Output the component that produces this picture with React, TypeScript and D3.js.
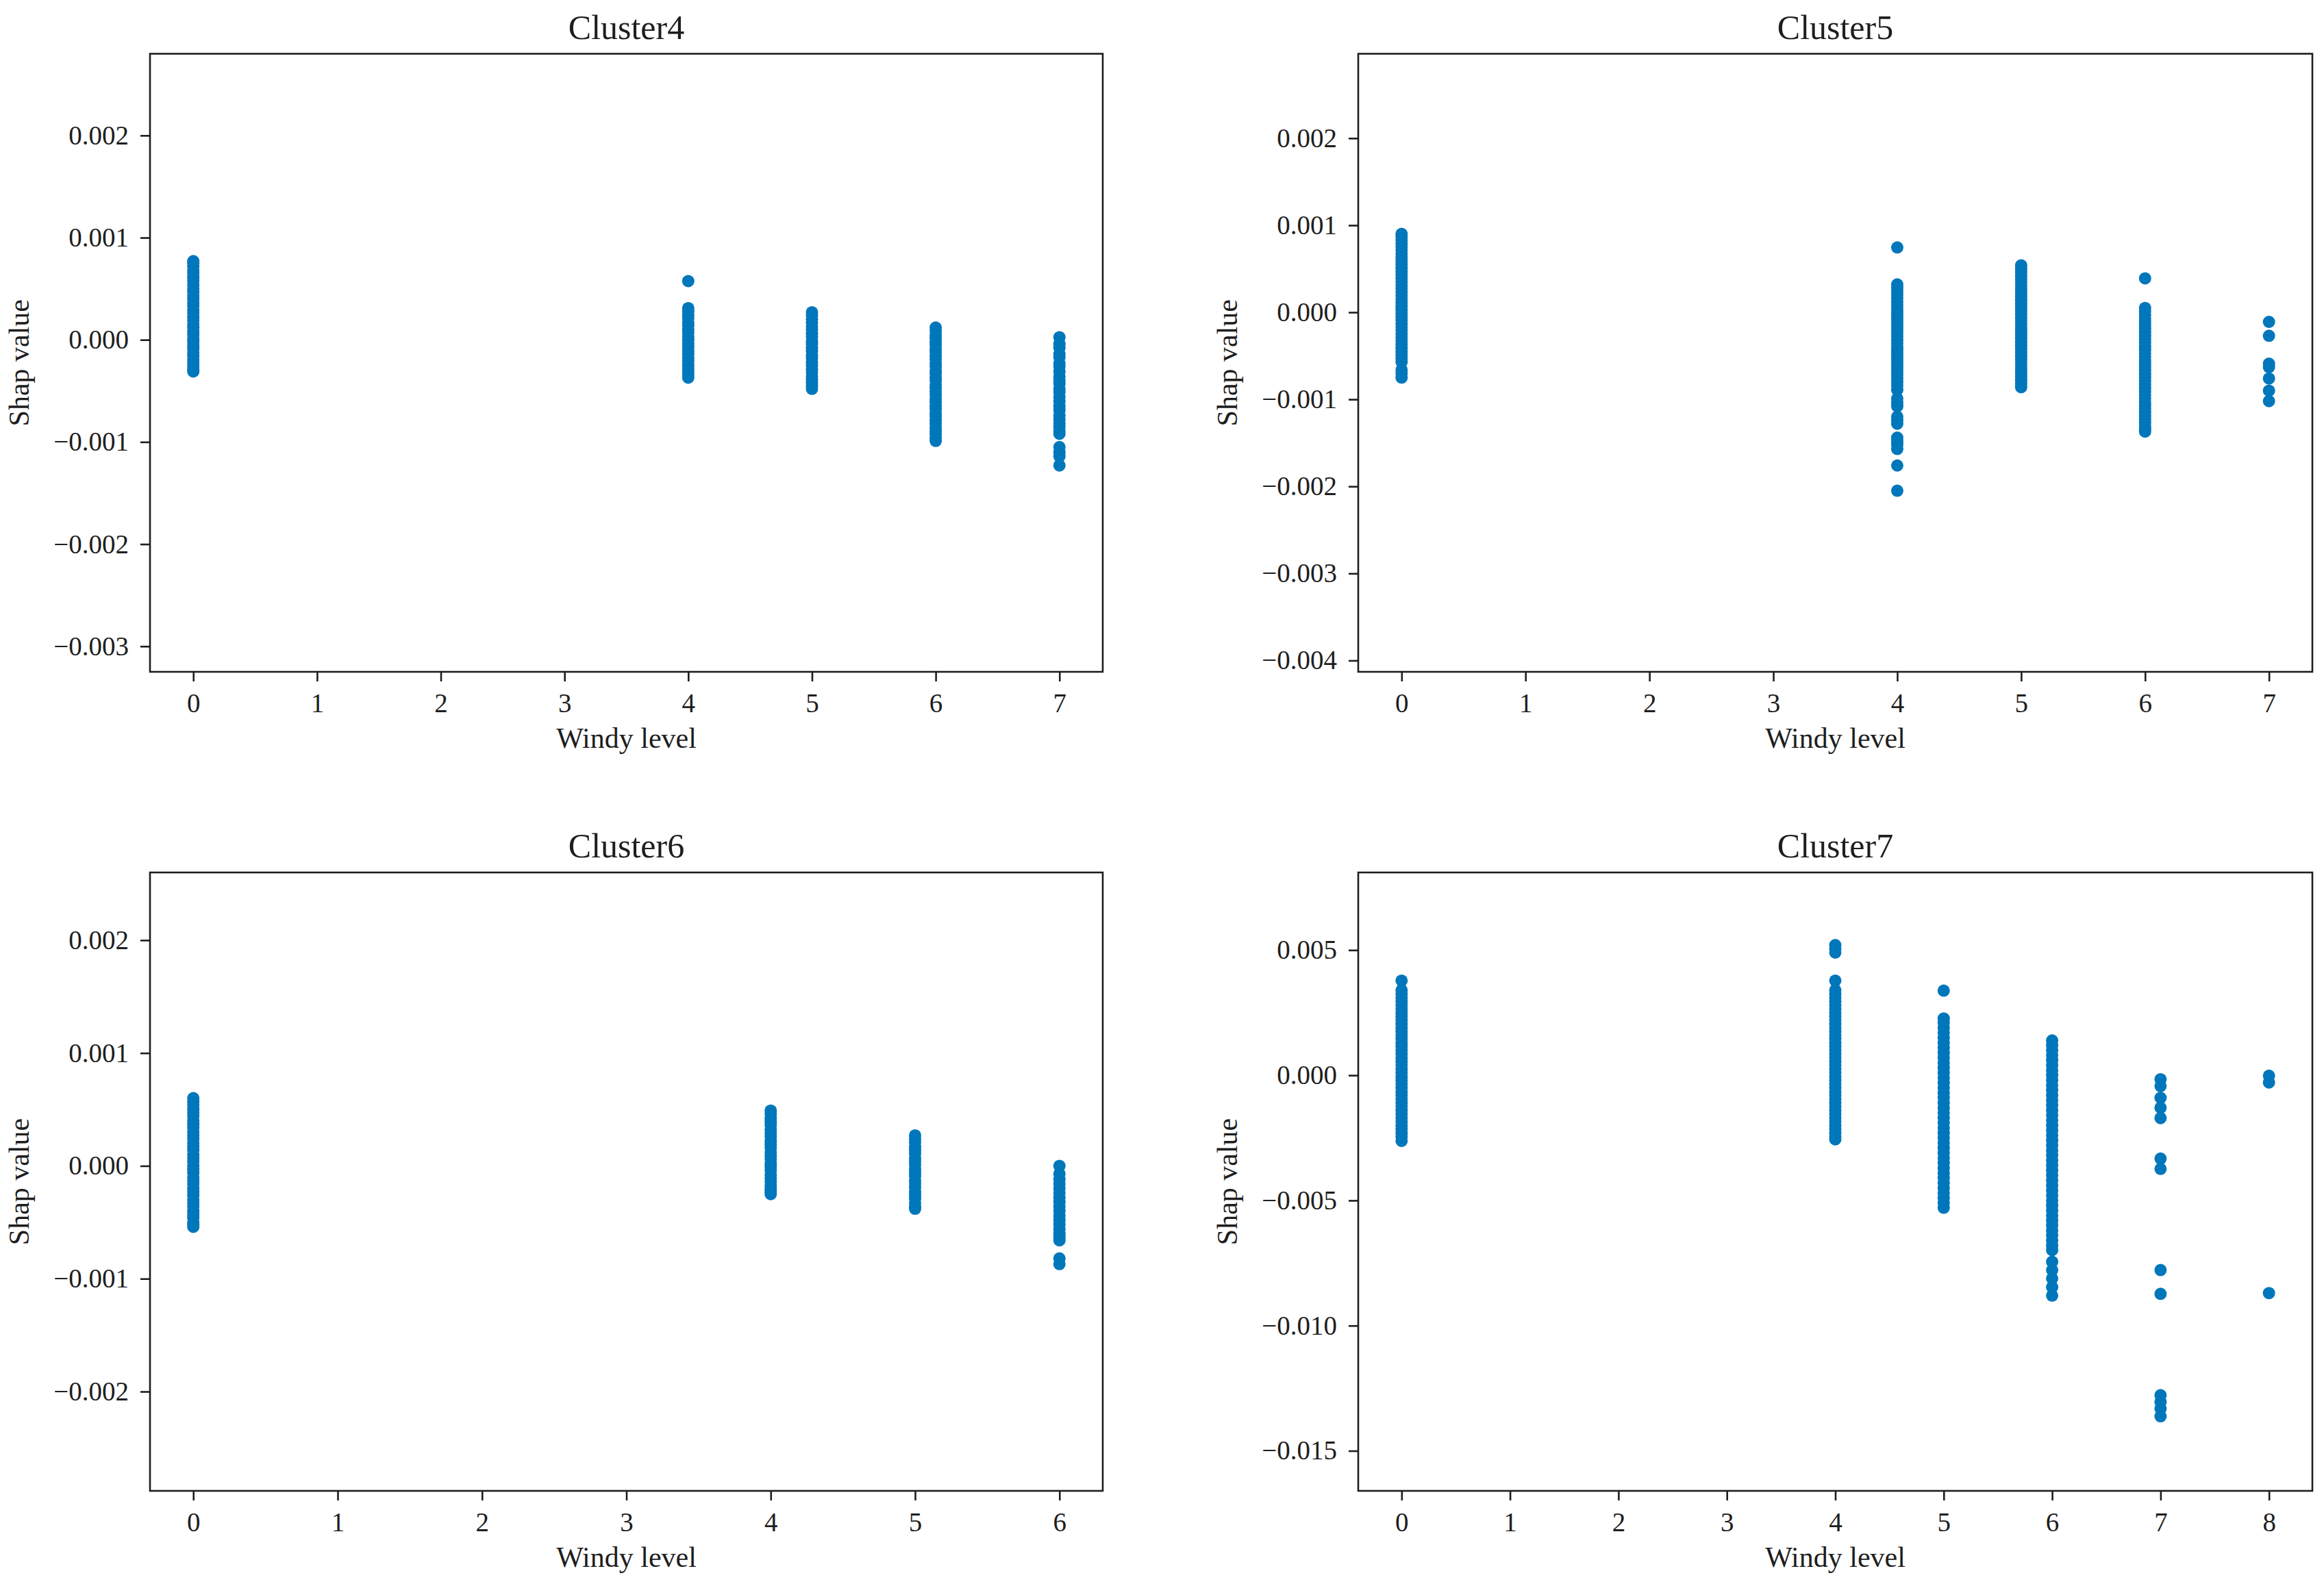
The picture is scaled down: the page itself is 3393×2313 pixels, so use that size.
import React, { useRef, useEffect } from 'react';
import * as d3 from 'd3';

// Shap values, one array per windy level per cluster
const cluster4Level0 = [0.00077, 0.00075, 0.00072, 0.00068, 0.00065, 0.00061, 0.00058, 0.00054, 0.0005, 0.00047, 0.00043, 0.0004, 0.00036, 0.00033, 0.00029, 0.00026, 0.00022, 0.00019, 0.00015, 0.00012, 0.00008, 0.00005, 0.00001, -0.00002, -0.00006, -0.00009, -0.00013, -0.00016, -0.0002, -0.00023, -0.00026, -0.00029, -0.00031];
const cluster4Level4 = [0.000575, 0.00031, 0.00028, 0.00024, 0.00021, 0.00017, 0.00014, 0.0001, 0.00007, 0.00003, 0.0, -0.00004, -0.00007, -0.00011, -0.00014, -0.00018, -0.00021, -0.00025, -0.00028, -0.00031, -0.00034, -0.00037];
const cluster4Level5 = [0.00027, 0.00024, 0.0002, 0.00017, 0.00013, 0.0001, 0.00006, 0.00003, -0.00001, -0.00004, -0.00008, -0.00011, -0.00015, -0.00018, -0.00022, -0.00025, -0.00029, -0.00032, -0.00036, -0.00039, -0.00042, -0.00045, -0.00048];
const cluster4Level6 = [0.00012, 0.00009, 0.00005, 0.00002, -0.00002, -0.00005, -0.00009, -0.00012, -0.00016, -0.00019, -0.00023, -0.00026, -0.0003, -0.00033, -0.00037, -0.0004, -0.00044, -0.00047, -0.00051, -0.00054, -0.00058, -0.00061, -0.00065, -0.00068, -0.00072, -0.00075, -0.00079, -0.00082, -0.00086, -0.00089, -0.00092, -0.00096, -0.00099];
const cluster4Level7 = [0.000025, -0.00004, -0.00008, -0.00014, -0.00017, -0.00023, -0.00026, -0.00031, -0.00036, -0.0004, -0.00043, -0.00048, -0.00051, -0.00056, -0.0006, -0.00065, -0.00069, -0.00074, -0.00078, -0.00082, -0.00085, -0.00089, -0.00092, -0.00105, -0.0011, -0.00114, -0.00123];

const cluster5Level0 = [0.0009, 0.00087, 0.00083, 0.00079, 0.00075, 0.00071, 0.00067, 0.00063, 0.00059, 0.00055, 0.00051, 0.00047, 0.00043, 0.00039, 0.00035, 0.00031, 0.00027, 0.00023, 0.00019, 0.00015, 0.00011, 0.00007, 0.00003, -0.00001, -0.00005, -0.00009, -0.00013, -0.00017, -0.00021, -0.00025, -0.00029, -0.00033, -0.00037, -0.00041, -0.00045, -0.00049, -0.00053, -0.00057, -0.00066, -0.0007, -0.00075];
const cluster5Level4 = [0.000745, 0.00032, 0.00028, 0.00024, 0.0002, 0.00016, 0.00012, 0.00008, 0.00004, 0.0, -0.00004, -0.00008, -0.00012, -0.00016, -0.0002, -0.00024, -0.00028, -0.00032, -0.00036, -0.0004, -0.00044, -0.00048, -0.00052, -0.00056, -0.0006, -0.00064, -0.00068, -0.00072, -0.00076, -0.0008, -0.00084, -0.00089, -0.00099, -0.00104, -0.00108, -0.0012, -0.00124, -0.00128, -0.00144, -0.00148, -0.00152, -0.00157, -0.00176, -0.00205];
const cluster5Level5 = [0.00054, 0.0005, 0.00046, 0.00042, 0.00038, 0.00034, 0.0003, 0.00026, 0.00022, 0.00018, 0.00014, 0.0001, 0.00006, 0.00002, -0.00002, -0.00006, -0.0001, -0.00014, -0.00018, -0.00022, -0.00026, -0.0003, -0.00034, -0.00038, -0.00042, -0.00046, -0.0005, -0.00054, -0.00058, -0.00062, -0.00066, -0.0007, -0.00074, -0.00078, -0.00082, -0.00086];
const cluster5Level6 = [0.00039, 0.00005, 0.00001, -0.00003, -0.00007, -0.00011, -0.00015, -0.00019, -0.00023, -0.00027, -0.00031, -0.00035, -0.00039, -0.00043, -0.00047, -0.00051, -0.00055, -0.00059, -0.00063, -0.00067, -0.00071, -0.00075, -0.00079, -0.00083, -0.00087, -0.00091, -0.00095, -0.00099, -0.00103, -0.00107, -0.00111, -0.00115, -0.00119, -0.00123, -0.00127, -0.00131, -0.00134, -0.00137];
const cluster5Level7 = [-0.00011, -0.00027, -0.00059, -0.00063, -0.00076, -0.0009, -0.00102];

const cluster6Level0 = [0.0006, 0.00057, 0.00054, 0.0005, 0.00047, 0.00044, 0.0004, 0.00037, 0.00034, 0.0003, 0.00027, 0.00024, 0.0002, 0.00017, 0.00014, 0.0001, 0.00007, 0.00004, 0.0, -0.00003, -0.00006, -0.0001, -0.00013, -0.00016, -0.0002, -0.00023, -0.00026, -0.0003, -0.00033, -0.00036, -0.0004, -0.00043, -0.00046, -0.0005, -0.00052, -0.00054];
const cluster6Level4 = [0.00049, 0.00046, 0.00042, 0.00039, 0.00036, 0.00032, 0.00029, 0.00026, 0.00022, 0.00019, 0.00016, 0.00012, 0.00009, 0.00006, 0.00002, -0.00001, -0.00004, -0.00008, -0.00011, -0.00014, -0.00018, -0.00021, -0.00023, -0.00025];
const cluster6Level5 = [0.00027, 0.00024, 0.00021, 0.00017, 0.00014, 0.00011, 0.00007, 0.00004, 0.00001, -0.00003, -0.00006, -0.00009, -0.00013, -0.00016, -0.00019, -0.00023, -0.00026, -0.00029, -0.00033, -0.00036, -0.00038];
const cluster6Level6 = [0.0, -0.00007, -0.00012, -0.00016, -0.0002, -0.00024, -0.00028, -0.00032, -0.00036, -0.0004, -0.00044, -0.00048, -0.00052, -0.00056, -0.0006, -0.00063, -0.00066, -0.00082, -0.00087];

const cluster7Level0 = [0.00378, 0.0034, 0.00325, 0.0031, 0.00295, 0.0028, 0.00265, 0.0025, 0.00235, 0.0022, 0.00205, 0.0019, 0.00175, 0.0016, 0.00145, 0.0013, 0.00115, 0.001, 0.00085, 0.0007, 0.00055, 0.0004, 0.00025, 0.0001, -0.00005, -0.0002, -0.00035, -0.0005, -0.00065, -0.0008, -0.00095, -0.0011, -0.00125, -0.0014, -0.00155, -0.0017, -0.00185, -0.002, -0.00215, -0.0023, -0.00245, -0.00262];
const cluster7Level4 = [0.0052, 0.00505, 0.0049, 0.00378, 0.0034, 0.00325, 0.0031, 0.00295, 0.0028, 0.00265, 0.0025, 0.00235, 0.0022, 0.00205, 0.0019, 0.00175, 0.0016, 0.00145, 0.0013, 0.00115, 0.001, 0.00085, 0.0007, 0.00055, 0.0004, 0.00025, 0.0001, -0.00005, -0.0002, -0.00035, -0.0005, -0.00065, -0.0008, -0.00095, -0.0011, -0.00125, -0.0014, -0.00155, -0.0017, -0.00185, -0.002, -0.00215, -0.0023, -0.00245, -0.00256];
const cluster7Level5 = [0.00338, 0.00227, 0.0021, 0.0019, 0.0017, 0.0015, 0.0013, 0.0011, 0.0009, 0.0007, 0.0005, 0.0003, 0.0001, -0.0001, -0.0003, -0.0005, -0.0007, -0.0009, -0.0011, -0.0013, -0.0015, -0.0017, -0.0019, -0.0021, -0.0023, -0.0025, -0.0027, -0.0029, -0.0031, -0.0033, -0.0035, -0.0037, -0.0039, -0.0041, -0.0043, -0.0045, -0.0047, -0.0049, -0.0051, -0.00529];
const cluster7Level6 = [0.00139, 0.0012, 0.001, 0.0008, 0.0006, 0.0004, 0.0002, 0.0, -0.0002, -0.0004, -0.0006, -0.0008, -0.001, -0.0012, -0.0014, -0.0016, -0.0018, -0.002, -0.0022, -0.0024, -0.0026, -0.0028, -0.003, -0.0032, -0.0034, -0.0036, -0.0038, -0.004, -0.0042, -0.0044, -0.0046, -0.0048, -0.005, -0.0052, -0.0054, -0.0056, -0.0058, -0.006, -0.0062, -0.0064, -0.0066, -0.0068, -0.00698, -0.00745, -0.00778, -0.00812, -0.00846, -0.0088];
const cluster7Level7 = [-0.00016, -0.00043, -0.0009, -0.0013, -0.00171, -0.00333, -0.00374, -0.00778, -0.00873, -0.01278, -0.01305, -0.01332, -0.01362];
const cluster7Level8 = [-0.00002, -0.00029, -0.0087];

const xTicks7 = [0, 1, 2, 3, 4, 5, 6, 7];
const xTicks6 = [0, 1, 2, 3, 4, 5, 6];
const xTicks8 = [0, 1, 2, 3, 4, 5, 6, 7, 8];
const yTicksCluster4 = [0.002, 0.001, 0, -0.001, -0.002, -0.003];
const yTicksCluster5 = [0.002, 0.001, 0, -0.001, -0.002, -0.003, -0.004];
const yTicksCluster6 = [0.002, 0.001, 0, -0.001, -0.002];
const yTicksCluster7 = [0.005, 0, -0.005, -0.01, -0.015];

type Series = { level: number; values: number[] };

interface Panel {
  title: string;
  left: number;
  top: number;
  width: number;
  height: number;
  xDomain: [number, number];
  yDomain: [number, number];
  xTicks: number[];
  yTicks: number[];
  series: Series[];
}

const panels: Panel[] = [
  {
    title: 'Cluster4', left: 219, top: 78.5, width: 1391, height: 902.5,
    xDomain: [-0.35, 7.35], yDomain: [-0.00325, 0.0028],
    xTicks: xTicks7, yTicks: yTicksCluster4,
    series: [
      { level: 0, values: cluster4Level0 },
      { level: 4, values: cluster4Level4 },
      { level: 5, values: cluster4Level5 },
      { level: 6, values: cluster4Level6 },
      { level: 7, values: cluster4Level7 },
    ],
  },
  {
    title: 'Cluster5', left: 1983, top: 78.5, width: 1393, height: 902.5,
    xDomain: [-0.35, 7.35], yDomain: [-0.00413, 0.00297],
    xTicks: xTicks7, yTicks: yTicksCluster5,
    series: [
      { level: 0, values: cluster5Level0 },
      { level: 4, values: cluster5Level4 },
      { level: 5, values: cluster5Level5 },
      { level: 6, values: cluster5Level6 },
      { level: 7, values: cluster5Level7 },
    ],
  },
  {
    title: 'Cluster6', left: 219, top: 1274, width: 1391, height: 903,
    xDomain: [-0.3, 6.3], yDomain: [-0.00288, 0.0026],
    xTicks: xTicks6, yTicks: yTicksCluster6,
    series: [
      { level: 0, values: cluster6Level0 },
      { level: 4, values: cluster6Level4 },
      { level: 5, values: cluster6Level5 },
      { level: 6, values: cluster6Level6 },
    ],
  },
  {
    title: 'Cluster7', left: 1983, top: 1274, width: 1393, height: 903,
    xDomain: [-0.4, 8.4], yDomain: [-0.0166, 0.0081],
    xTicks: xTicks8, yTicks: yTicksCluster7,
    series: [
      { level: 0, values: cluster7Level0 },
      { level: 4, values: cluster7Level4 },
      { level: 5, values: cluster7Level5 },
      { level: 6, values: cluster7Level6 },
      { level: 7, values: cluster7Level7 },
      { level: 8, values: cluster7Level8 },
    ],
  },
];

const FONT = '"Liberation Serif", "Times New Roman", serif';
const DOT = '#0077bb';
const INK = '#1e1e1e';

const App: React.FC = () => {
  const svgRef = useRef<SVGSVGElement | null>(null);

  useEffect(() => {
    if (!svgRef.current) return;
    const svg = d3.select(svgRef.current);
    svg.selectAll('*').remove();

    svg.append('rect')
      .attr('width', 3393)
      .attr('height', 2313)
      .attr('fill', '#fff');

    panels.forEach(p => {
      const x = d3.scaleLinear().domain(p.xDomain).range([0, p.width]);
      const y = d3.scaleLinear().domain(p.yDomain).range([p.height, 0]);

      const g = svg.append('g')
        .attr('transform', `translate(${p.left},${p.top})`);

      // Points
      const pts = p.series.flatMap(s => s.values.map(v => ({ x: s.level, y: v })));
      g.append('g')
        .selectAll('circle')
        .data(pts)
        .join('circle')
        .attr('cx', d => x(d.x))
        .attr('cy', d => y(d.y))
        .attr('r', 9)
        .attr('fill', DOT);

      // Axes
      g.append('g')
        .attr('transform', `translate(0,${p.height})`)
        .call(d3.axisBottom(x).tickValues(p.xTicks).tickSize(14).tickPadding(17).tickFormat(d3.format('d')))
        .call(a => a.select('.domain').remove())
        .call(a => a.selectAll('.tick line').attr('stroke', INK).attr('stroke-width', 2.6))
        .call(a => a.selectAll('.tick text')
          .attr('fill', INK)
          .style('font-family', FONT)
          .style('font-size', '39px'));

      g.append('g')
        .call(d3.axisLeft(y).tickValues(p.yTicks).tickSize(14).tickPadding(17).tickFormat(d3.format('.3f')))
        .call(a => a.select('.domain').remove())
        .call(a => a.selectAll('.tick line').attr('stroke', INK).attr('stroke-width', 2.6))
        .call(a => a.selectAll('.tick text')
          .attr('fill', INK)
          .style('font-family', FONT)
          .style('font-size', '39px'));

      // Frame
      g.append('rect')
        .attr('width', p.width)
        .attr('height', p.height)
        .attr('fill', 'none')
        .attr('stroke', INK)
        .attr('stroke-width', 2.6);

      // Labels
      g.append('text')
        .attr('x', p.width / 2)
        .attr('y', -22)
        .attr('text-anchor', 'middle')
        .attr('fill', INK)
        .style('font-family', FONT)
        .style('font-size', '50px')
        .text(p.title);

      g.append('text')
        .attr('x', p.width / 2)
        .attr('y', p.height + 111)
        .attr('text-anchor', 'middle')
        .attr('fill', INK)
        .style('font-family', FONT)
        .style('font-size', '42px')
        .text('Windy level');

      g.append('text')
        .attr('transform', `translate(-177,${p.height / 2}) rotate(-90)`)
        .attr('text-anchor', 'middle')
        .attr('fill', INK)
        .style('font-family', FONT)
        .style('font-size', '42px')
        .text('Shap value');
    });
  }, []);

  return (
    <svg
      ref={svgRef}
      width={3393}
      height={2313}
      style={{ position: 'absolute', left: 0, top: 0, display: 'block' }}
    />
  );
};

export default App;
